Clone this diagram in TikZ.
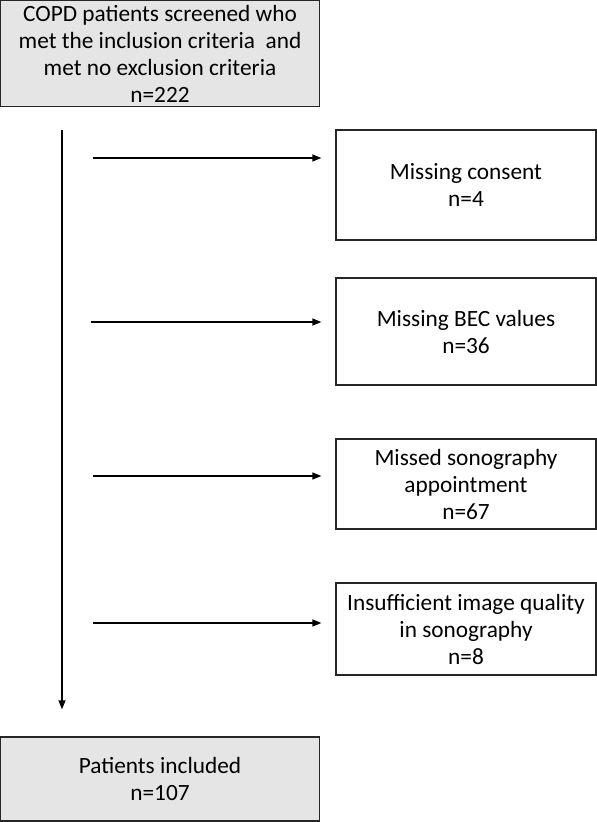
\documentclass[tikz,border=0pt]{standalone}
\usepackage{fontspec}
\setmainfont{Carlito}
\usetikzlibrary{arrows.meta}
\begin{document}
\begin{tikzpicture}[x=1pt,y=-1pt,
  box/.style={draw=black!85,line width=1.3pt,rectangle,inner sep=0pt,align=center,font=\fontsize{23.3}{27}\selectfont},
  graybox/.style={box,fill=black!10},
  arr/.style={draw=black,line width=1.3pt,-{Triangle[length=9pt,width=7pt]}}]
\useasboundingbox (0,0) rectangle (597,822);
\node[graybox,minimum width=319pt,minimum height=106pt] (top) at (160,53.5) {COPD patients screened who\\met the inclusion criteria\ \ and\\met no exclusion criteria\\n=222};
\node[graybox,minimum width=319pt,minimum height=84pt] (bot) at (160,779) {Patients included\\n=107};
\node[box,minimum width=260pt,minimum height=110pt] (b1) at (466,185) {Missing consent\\n=4};
\node[box,minimum width=260pt,minimum height=107pt] (b2) at (466,331.5) {Missing BEC values\\n=36};
\node[box,minimum width=260pt,minimum height=90pt] (b3) at (466,484) {Missed sonography\\appointment\\n=67};
\node[box,minimum width=260pt,minimum height=92pt] (b4) at (466,629) {Insufficient image quality\\in sonography\\n=8};
\coordinate (v) at (62,130);
\coordinate (a1) at (93,158);
\coordinate (a2) at (91,322);
\coordinate (a3) at (93,476);
\coordinate (a4) at (93,623);
\draw[arr,shorten >=27pt] (v) -- (v |- bot.north);
\draw[arr,shorten >=14pt] (a1) -- (a1 -| b1.west);
\draw[arr,shorten >=14pt] (a2) -- (a2 -| b2.west);
\draw[arr,shorten >=14pt] (a3) -- (a3 -| b3.west);
\draw[arr,shorten >=14pt] (a4) -- (a4 -| b4.west);
\end{tikzpicture}
\end{document}
